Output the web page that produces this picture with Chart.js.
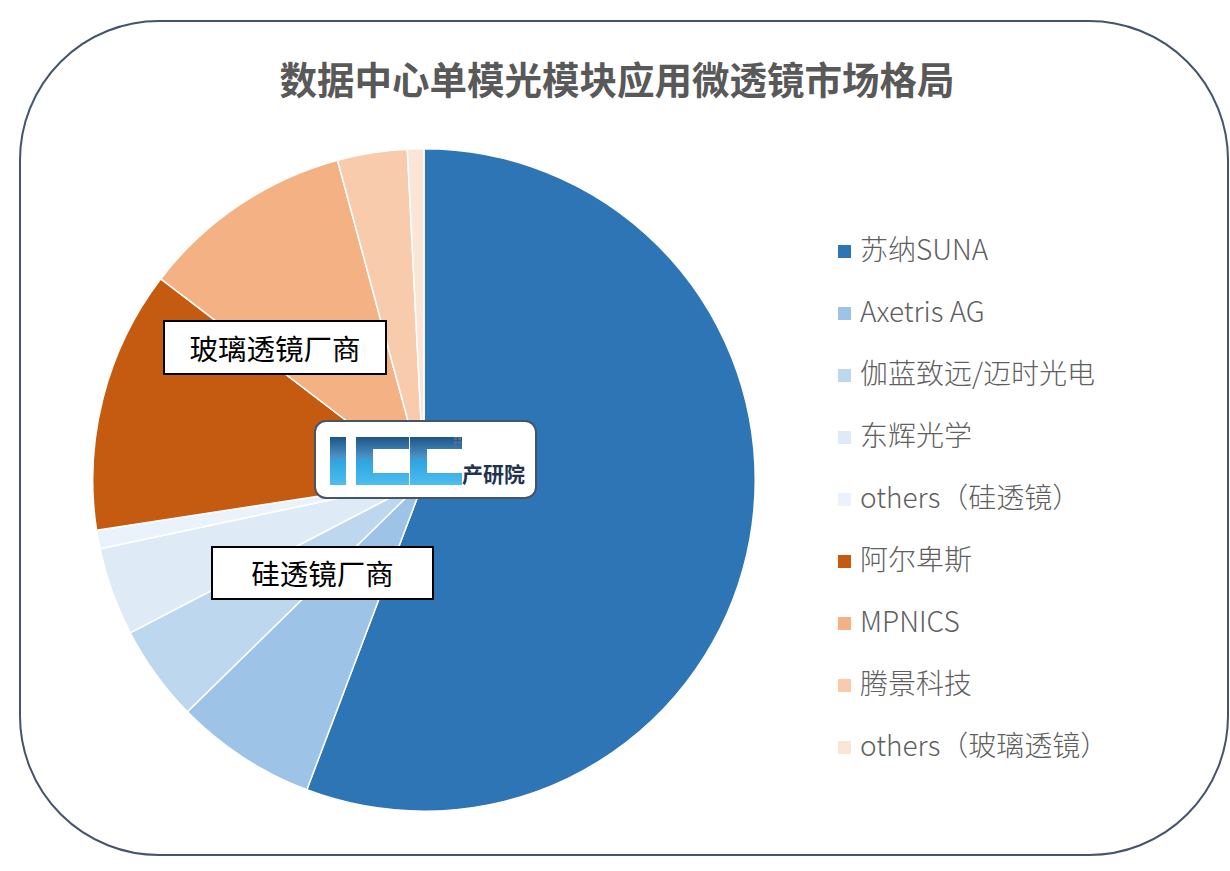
<!DOCTYPE html>
<html>
<head>
<meta charset="utf-8">
<script src="https://cdn.jsdelivr.net/npm/chart.js@4.4.0/dist/chart.umd.min.js"></script>
<style>
    body { margin: 0; background: #fff; font-family: "Noto Sans CJK SC", "Noto Sans", sans-serif; }
    #page { position: relative; width: 1230px; height: 871px; overflow: hidden; }
    #frame { position: absolute; left: 19px; top: 20px; width: 1210px; height: 836px; border: 2px solid #44546a; border-radius: 140px; box-sizing: border-box; }
    #title { position: absolute; left: 0; width: 1234px; top: 50px; text-align: center; font-size: 37.5px; font-weight: bold; color: #595959; }
    #chartBox { position: absolute; left: 92px; top: 148px; width: 664px; height: 664px; }
    #legend { position: absolute; left: 838px; top: 0; }
    .item { position: absolute; left: 0; white-space: nowrap; font-size: 28px; color: #5f5f5f; font-weight: 300; }
    .item span.sw { position: absolute; left: 0; top: 13px; width: 13px; height: 13px; }
    .item span.tx { position: absolute; left: 22px; top: -4px; }
    .tag { position: absolute; background: #fff; border: 2px solid #000; box-sizing: border-box; font-size: 28.5px; color: #000; text-align: center; }
    #logo { position: absolute; left: 314px; top: 420px; width: 223px; height: 79px; background: #fff; border: 2px solid #44546a; border-radius: 12px; box-sizing: border-box; }
    .blk { position: absolute; background: linear-gradient(to bottom, #1d5485 0%, #4a94c8 42%, #2fa6e0 52%, #4fbdee 100%); }
    .hole { position: absolute; background: #fff; }
    #cy { position: absolute; left: 146px; top: 36px; font-size: 21px; font-weight: bold; color: #1f3350; letter-spacing: 0px; }
    .px { position: absolute; width: 3px; height: 3px; background: #4a6f9a; }
</style>
</head>
<body>
<div id="page">
    <div id="frame"></div>
    <div id="title">数据中心单模光模块应用微透镜市场格局</div>
    <div id="chartBox"><canvas id="pieChart" width="664" height="664"></canvas></div>
    <div id="legend"></div>

    <div class="tag" style="left:163px; top:320px; width:224px; height:55px; line-height:51px;">玻璃透镜厂商</div>
    <div class="tag" style="left:211px; top:546px; width:223px; height:54px; line-height:50px;">硅透镜厂商</div>

    <div id="logo">
        <div class="blk" style="left:14px; top:15px; width:16px; height:48px;"></div>
        <div class="blk" style="left:40px; top:15px; width:53px; height:48px;"></div>
        <div class="hole" style="left:57px; top:27px; width:40px; height:24px;"></div>
        <div class="blk" style="left:94px; top:15px; width:52px; height:48px;"></div>
        <div class="hole" style="left:111px; top:27px; width:40px; height:24px;"></div>
        <div class="px" style="left:138px; top:15px;"></div>
        <div class="px" style="left:142px; top:15px;"></div>
        <div class="px" style="left:138px; top:19px;"></div>
        <div class="px" style="left:142px; top:19px;"></div>
        <div class="px" style="left:138px; top:23px;"></div>
        <div id="cy">产研院</div>
    </div>
</div>

<script>
    // data
    var labels = ["苏纳SUNA", "Axetris AG", "伽蓝致远/迈时光电", "东辉光学", "others（硅透镜）",
                  "阿尔卑斯", "MPNICS", "腾景科技", "others（玻璃透镜）"];
    var shares = [55.7, 6.9, 4.7, 4.3, 0.9, 12.8, 10.4, 3.4, 0.8];
    var colors = ["#2e75b6", "#9dc3e6", "#bdd7ee", "#deebf7", "#eaf3fb",
                  "#c55a11", "#f4b183", "#f8cbad", "#fbe5d6"];

    // legend
    var legend = document.getElementById("legend");
    for (var i = 0; i < labels.length; i++) {
        var item = document.createElement("div");
        item.className = "item";
        item.style.top = (232 + i * 62) + "px";
        item.innerHTML = '<span class="sw" style="background:' + colors[i] + '"></span><span class="tx">' + labels[i] + '</span>';
        legend.appendChild(item);
    }

    var pieCanvas = document.getElementById("pieChart");

    var pieChart = new Chart(pieCanvas, {
        type: 'pie',
        data: {
            labels: labels,
            datasets: [{
                data: shares,
                backgroundColor: colors,
                borderColor: "white",
                borderWidth: 1.5
            }]
        },
        options: {
            responsive: false,
            animation: false,
            layout: { padding: 0 },
            plugins: {
                legend: { display: false },
                tooltip: { enabled: false }
            }
        }
    });
</script>
</body>
</html>
